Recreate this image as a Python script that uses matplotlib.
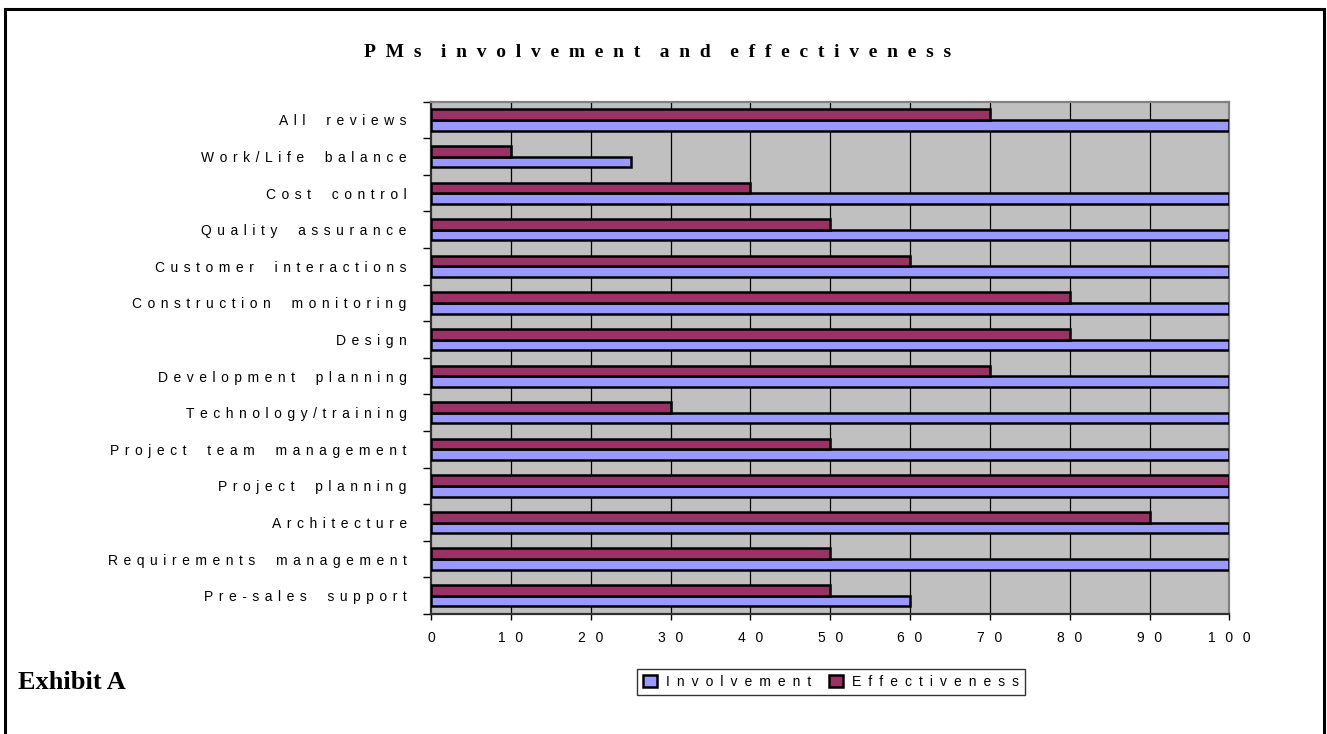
import numpy as np
import matplotlib
matplotlib.use("Agg")
import matplotlib.pyplot as plt
from matplotlib.patches import Rectangle

# categories listed bottom -> top, as they sit on the y axis
categories = ["Pre-sales support", "Requirements management", "Architecture",
              "Project planning", "Project team management", "Technology/training",
              "Development planning", "Design", "Construction monitoring",
              "Customer interactions", "Quality assurance", "Cost control",
              "Work/Life balance", "All reviews"]
involvement = [60, 100, 100, 100, 100, 100, 100, 100, 100, 100, 100, 100, 25, 100]
effectiveness = [50, 50, 90, 100, 50, 30, 70, 80, 80, 60, 50, 40, 10, 70]
x_ticks = [0, 10, 20, 30, 40, 50, 60, 70, 80, 90, 100]

SANS = ["Liberation Sans", "DejaVu Sans"]
SERIF = ["Liberation Serif", "DejaVu Serif"]
plt.rcParams['font.family'] = SANS

EN = "\u2002"
THIN = "\u2009"

# old Excel charts draw text letter-spaced, fake it with narrow spaces
GAP = THIN + THIN
WORD = GAP + EN + THIN + GAP


def track(text, gap=GAP, word=WORD):
    return word.join(gap.join(w) for w in text.split(" "))


W, H = 1327, 734
fig = plt.figure(figsize=(W / 100, H / 100), dpi=100)
ax = fig.add_axes([431 / W, 1 - 614 / H, (1229.5 - 431) / W, (614 - 101.7) / H])

y = np.arange(len(categories))
h = 0.29
ax.barh(y - h / 2, involvement, height=h, color="#9999FF", edgecolor="black",
        linewidth=1.8, label=track("Involvement", gap=EN), zorder=3)
ax.barh(y + h / 2, effectiveness, height=h, color="#993366", edgecolor="black",
        linewidth=1.8, label=track("Effectiveness", gap=EN), zorder=3)

ax.set_facecolor("#C0C0C0")
ax.set_xlim(0, 100)
ax.set_ylim(-0.5, len(categories) - 0.5)

ax.set_xticks(x_ticks)
ax.set_xticklabels([track(str(v), gap=EN + THIN) for v in x_ticks], fontsize=10)
ax.tick_params(axis="x", direction="out", length=4, width=1, pad=8, colors="black")
for v in x_ticks[1:-1]:
    ax.axvline(v, color="black", linewidth=0.9, zorder=1)

ax.set_yticks(y)
ax.set_yticklabels([track(c) for c in categories], fontsize=10)
ax.tick_params(axis="y", which="major", length=0, pad=17.5)
ax.set_yticks(np.arange(-0.5, len(categories)), minor=True)
ax.tick_params(axis="y", which="minor", direction="out", length=6, width=1, color="black")

for side in ("top", "right"):
    ax.spines[side].set_color("#808080")
    ax.spines[side].set_linewidth(1.6)
for side in ("left", "bottom"):
    ax.spines[side].set_color("#303030")
    ax.spines[side].set_linewidth(1.6)

leg = fig.legend(loc="center", bbox_to_anchor=(831 / W, 1 - 682 / H), ncol=2,
                 fontsize=10, frameon=True, fancybox=False, shadow=False,
                 handlelength=1.0, handleheight=1.0, handletextpad=0.65,
                 columnspacing=1.3, borderpad=0.45, borderaxespad=0)
leg.get_frame().set_edgecolor("black")
leg.get_frame().set_linewidth(1.0)

fig.text(658 / W, 1 - 57 / H, track("PMs involvement and effectiveness", gap=EN,
                                    word=EN + EN),
         ha="center", va="baseline", fontsize=14, fontweight="bold", family=SERIF)
fig.text(18 / W, 1 - 689 / H, "Exhibit A", ha="left", va="baseline",
         fontsize=19, fontweight="bold", family=SERIF)

# outer frame (bottom edge falls outside the picture)
fig.add_artist(Rectangle((4.5 / W, -0.05), (1323.5 - 4.5) / W, 1.05 - 8.5 / H,
                         transform=fig.transFigure, fill=False, edgecolor="black",
                         linewidth=2.2))

fig.savefig("out.png", dpi=100)
